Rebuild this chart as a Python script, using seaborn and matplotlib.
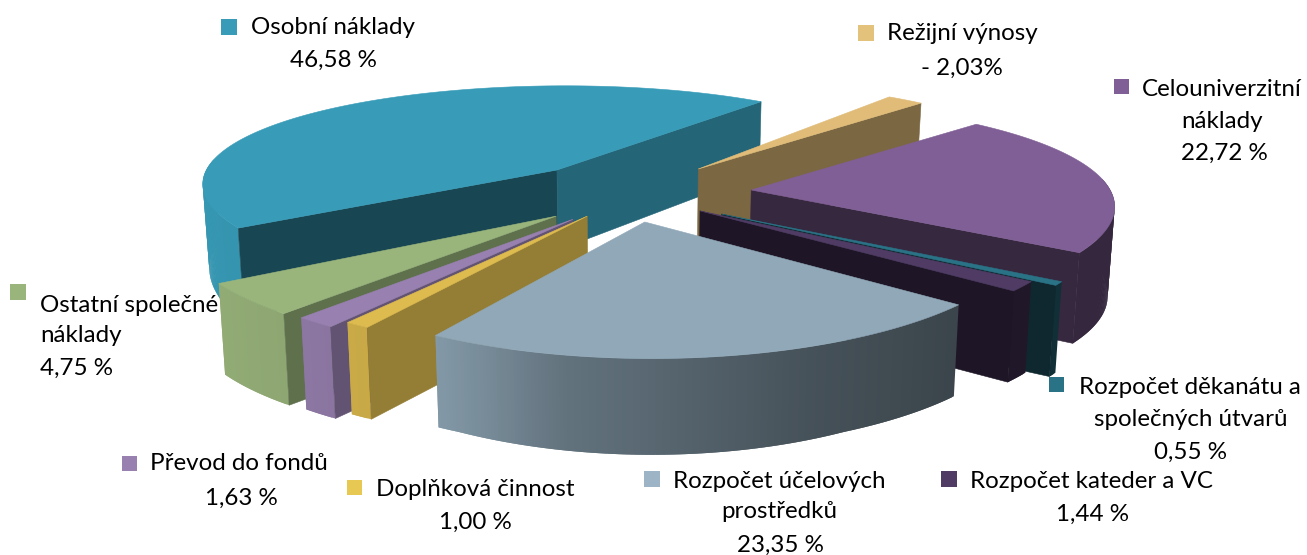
import numpy as np
import matplotlib
matplotlib.use("Agg")
import matplotlib.pyplot as plt
import seaborn as sns

# clockwise order, as in the source sheet
names = ["Osobní náklady", "Režijní výnosy", "Celouniverzitní náklady",
         "Rozpočet děkanátu a společných útvarů", "Rozpočet kateder a VC",
         "Rozpočet účelových prostředků", "Doplňková činnost",
         "Převod do fondů", "Ostatní společné náklady"]
values = [46.58, -2.03, 22.72, 0.55, 1.44, 23.35, 1.00, 1.63, 4.75]
hex_colors = ["#389CB8", "#E0BC78", "#805F96", "#2A7286", "#4F3B63",
              "#90A8B8", "#DDBB4E", "#9880B0", "#9AB57C"]
key_colors = ["#389CB8", "#E3C27C", "#805F96", "#2A7286", "#4F3B63",
              "#9CB4C6", "#E6C853", "#9880B0", "#9AB57C"]

# how far each slice is pulled out of the pie (disc units)
explode_u = [-0.2255, 0.179, 0.321, 0.243, 0.185, 0.037, -0.132, -0.17, -0.216]
explode_v = [0.2475, 0.31, 0.048, -0.176, -0.148, -0.247, -0.195, -0.223, -0.195]
# extra pixel shift of the tip of a slice
tip_shift_x = [0, 0, 0, -4, -4, -5, 0, 0, 0]
tip_shift_y = [0, 5, 0, 0, 0, 0, 0, 0, 0]
# darkness of the two cut faces of each slice
shade_start = [0.45, 0.55, 0.42, 0.35, 0.38, 0.6, 0.67, 0.65, 0.62]
shade_end = [0.65, 0.55, 0.42, 0.35, 0.38, 0.6, 0.67, 0.65, 0.62]
draw_order = [0, 1, 2, 3, 4, 8, 7, 6, 5]
start_angle = 213.2

sns.set_theme(style="white")
plt.rcParams["font.family"] = ["Lato", "DejaVu Sans"]
palette = sns.color_palette(hex_colors)


def project(u, v):
    return 636 + 361 * u / (1 + 0.12 * v), 195 - 105 * v / (1 + 0.16 * v)


def drop(x, y):
    # bottom edge of the extruded disc
    h = np.interp(y, [85, 170, 210, 340, 362], [70, 80, 90, 92, 97])
    return 640 + (x - 640) * 0.985, y + h


def darker(c, k):
    return tuple(np.array(c) * k)


def wall_shade(a):
    return np.interp(np.cos(a), [-1, -0.5, -0.2, 0.4, 0.75, 1],
                     [0.97, 0.9, 0.68, 0.48, 0.41, 0.41])


fig = plt.figure(figsize=(13.07, 5.55), dpi=100)
ax = fig.add_axes([0, 0, 1, 1])
ax.set_xlim(0, 1307)
ax.set_ylim(555, 0)
ax.axis("off")

sizes = np.abs(values)
sweeps = sizes / sizes.sum() * 360
edges = start_angle - np.concatenate([[0], np.cumsum(sweeps)])

for z, i in enumerate(draw_order):
    a0, a1 = np.radians(edges[i]), np.radians(edges[i + 1])
    t = np.linspace(a0, a1, max(4, int(abs(edges[i] - edges[i + 1]) * 2)))
    ex, ey = explode_u[i], explode_v[i]
    tip_x, tip_y = project(ex, ey)
    tip_x = tip_x + tip_shift_x[i]
    tip_y = tip_y + tip_shift_y[i]
    arc_x, arc_y = project(ex + np.cos(t), ey + np.sin(t))
    low_x, low_y = drop(arc_x, arc_y)
    zo = 3 + z

    # outer wall, small strips to get the gradient, each reaches under the next one
    for k in range(len(t) - 1):
        if np.sin(t[k]) > 0.1 and np.sin(t[k + 1]) > 0.1:
            continue
        m = min(k + 2, len(t) - 1)
        col = darker(palette[i], wall_shade((t[k] + t[k + 1]) / 2))
        ax.fill([arc_x[k], arc_x[m], low_x[m], low_x[k]],
                [arc_y[k], arc_y[m], low_y[m], low_y[k]],
                color=col, lw=0, zorder=zo)

    # cut faces, only those turned towards the viewer
    tip_low_x, tip_low_y = drop(tip_x, tip_y)
    if np.sin(a0 + np.pi / 2) < 0:
        ax.fill([tip_x, arc_x[0], low_x[0], tip_low_x], [tip_y, arc_y[0], low_y[0], tip_low_y],
                color=darker(palette[i], shade_start[i]), lw=0.4, zorder=zo)
    if np.sin(a1 - np.pi / 2) < 0:
        ax.fill([tip_x, arc_x[-1], low_x[-1], tip_low_x], [tip_y, arc_y[-1], low_y[-1], tip_low_y],
                color=darker(palette[i], shade_end[i]), lw=0.4, zorder=zo)

    ax.fill(np.r_[tip_x, arc_x], np.r_[tip_y, arc_y], color=palette[i], lw=0.4, zorder=zo)

# legend-like labels: key square, then text lines
fs = 17.4
key_x = [229, 866, 1121.5, 1056.5, 949, 652, 354.5, 129.5, 18]
key_y = [27, 33, 86.5, 384.5, 479, 479, 487.5, 463.5, 292]
ax.scatter(key_x, key_y, marker="s", s=117, c=key_colors, linewidths=0, zorder=2)

label_lines = [
    ("Osobní náklady", 251, 28, "left"), ("46,58 %", 333, 60, "center"),
    ("Režijní výnosy", 887, 34, "left"), ("- 2,03%", 962, 68, "center"),
    ("Celouniverzitní", 1142, 90, "left"), ("náklady", 1222, 122, "center"),
    ("22,72 %", 1224, 153, "center"),
    ("Rozpočet děkanátu a", 1079, 388, "left"), ("společných útvarů", 1191, 419, "center"),
    ("0,55 %", 1190, 452, "center"),
    ("Rozpočet kateder a VC", 970, 481, "left"), ("1,44 %", 1092, 514, "center"),
    ("Rozpočet účelových", 673, 481, "left"), ("prostředků", 779, 512, "center"),
    ("23,35 %", 780, 545, "center"),
    ("Doplňková činnost", 376, 489, "left"), ("1,00 %", 475, 522, "center"),
    ("Převod do fondů", 150, 464, "left"), ("1,63 %", 241, 498, "center"),
    ("Ostatní společné", 40, 305, "left"), ("náklady", 40, 336, "left"),
    ("4,75 %", 40, 368, "left"),
]
for txt, x, y, ha in label_lines:
    ax.text(x, y, txt, ha=ha, va="center", fontsize=fs, color="black", zorder=1)

fig.savefig("out.png", dpi=100)
